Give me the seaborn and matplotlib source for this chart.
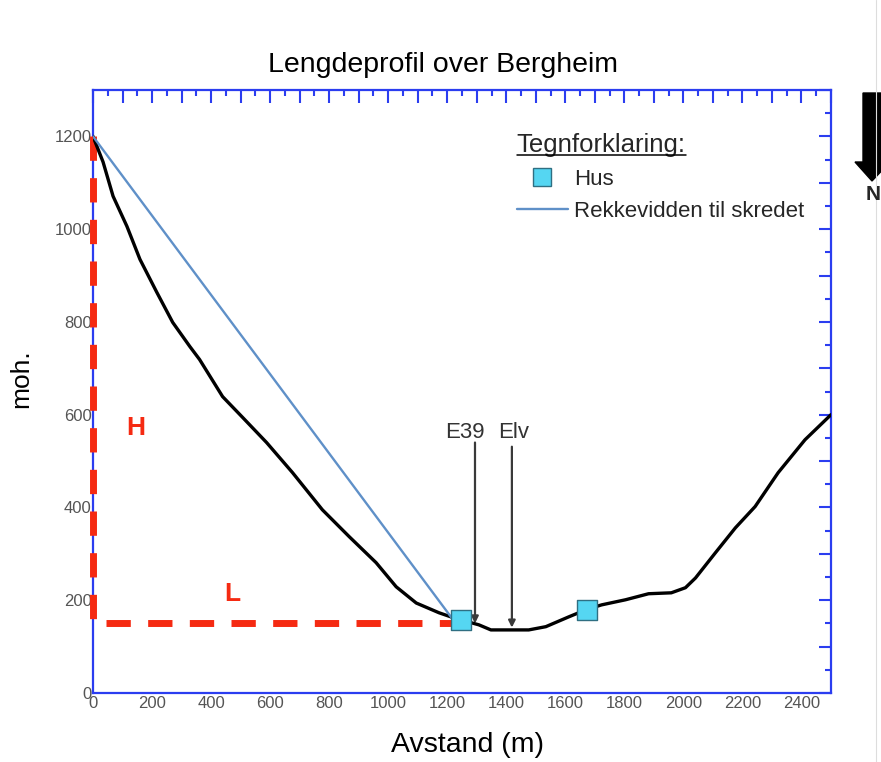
import matplotlib
matplotlib.use("Agg")
import matplotlib.pyplot as plt
import seaborn as sns
from matplotlib.ticker import MultipleLocator, FuncFormatter
from matplotlib.lines import Line2D
from matplotlib.patches import Polygon
from matplotlib.transforms import IdentityTransform

# Longitudinal terrain profile (distance in m, elevation in m a.s.l.)
distance = [0, 34, 68, 115, 159, 216, 270, 328, 361, 439, 507, 588, 676, 777,
            868, 959, 1027, 1095, 1172, 1213, 1247, 1284, 1307, 1348, 1476,
            1534, 1611, 1672, 1723, 1804, 1882, 1959, 2007, 2041, 2108, 2176,
            2243, 2321, 2412, 2500]
elevation = [1200, 1145, 1071, 1006, 935, 864, 799, 747, 719, 639, 594, 540,
             475, 395, 337, 281, 229, 194, 173, 164, 158, 151, 147, 136, 136,
             143, 164, 180, 190, 201, 214, 216, 227, 248, 302, 356, 402, 475,
             546, 600]

# Run-out line of the slide
runout_x = [0, 1215]
runout_y = [1200, 162]

# Houses
house_x = [1247, 1672]
house_y = [158, 180]

# Height (H) and length (L) of the run-out
hl_x = [0, 0, 1230]
hl_y = [1200, 150, 150]

# Pointers for the road and the river
pointer_names = ["E39", "Elv"]
pointer_x = [1294, 1419]
pointer_tip = [150, 141]
pointer_top = [540, 531]
pointer_label_x = [1260, 1426]

RED = "#f52a12"
BLUE_AX = "#2b3df0"
RUNOUT = "#5f90c8"
HOUSE = "#55d6f2"
HOUSE_EDGE = "#2f6f82"

sns.set_theme(style="white")
plt.rcParams["font.family"] = ["Liberation Sans", "DejaVu Sans"]

fig = plt.figure(figsize=(8.81, 7.62), dpi=100)
ax = fig.add_axes([93 / 881, 69 / 762, 738 / 881, 603 / 762])

# H / L frame
sns.lineplot(x=hl_x, y=hl_y, sort=False, estimator=None, color=RED, lw=5,
             linestyle=(0, (3.5, 2.5)), ax=ax, zorder=3)
ax.lines[-1].set_clip_on(False)

# Terrain profile
sns.lineplot(x=distance, y=elevation, sort=False, estimator=None,
             color="black", lw=2.4, ax=ax, zorder=4)

# Run-out line
sns.lineplot(x=runout_x, y=runout_y, sort=False, estimator=None,
             color=RUNOUT, lw=1.7, ax=ax, zorder=5)

# Houses
sns.scatterplot(x=house_x, y=house_y, marker="s", s=190, color=HOUSE,
                edgecolor=HOUSE_EDGE, linewidth=1, ax=ax, zorder=6)

# Road / river pointers
for name, px, tip, top, lx in zip(pointer_names, pointer_x, pointer_tip,
                                  pointer_top, pointer_label_x):
    ax.annotate("", xy=(px, tip), xytext=(px, top),
                arrowprops=dict(arrowstyle="-|>", color="#3a3a3a", lw=1.6,
                                mutation_scale=10, shrinkA=0, shrinkB=0))
    ax.text(lx, 562, name, ha="center", va="center", fontsize=16,
            color="#333333")

ax.text(145, 572, "H", color=RED, fontsize=19, fontweight="bold",
        ha="center", va="center")
ax.text(473, 214, "L", color=RED, fontsize=19, fontweight="bold",
        ha="center", va="center")

ax.set_xlim(0, 2500)
ax.set_ylim(0, 1300)

ax.xaxis.set_major_locator(MultipleLocator(100))
ax.xaxis.set_minor_locator(MultipleLocator(50))
ax.yaxis.set_major_locator(MultipleLocator(100))
ax.yaxis.set_minor_locator(MultipleLocator(50))
every_200 = FuncFormatter(lambda v, p: f"{int(round(v))}" if round(v) % 200 == 0 else "")
ax.xaxis.set_major_formatter(every_200)
ax.yaxis.set_major_formatter(every_200)

ax.tick_params(which="both", direction="in", top=True, right=True,
               color=BLUE_AX, width=1.5, labelcolor="#555555", labelsize=12)
ax.tick_params(which="major", length=9)
ax.tick_params(which="minor", length=4.5)
ax.tick_params(axis="y", pad=1)
ax.tick_params(axis="x", pad=2)

for sp in ax.spines.values():
    sp.set_color(BLUE_AX)
    sp.set_linewidth(1.6)
    sp.set_visible(True)

ax.set_title("Lengdeprofil over Bergheim", fontsize=20.5, x=0.474, pad=13,
             color="black")
ax.set_xlabel("Avstand (m)", fontsize=20.5, color="black")
ax.set_ylabel("moh.", fontsize=19, color="black")
ax.xaxis.set_label_coords(0.508, -0.064)
ax.yaxis.set_label_coords(-0.081, 0.522)

# Legend
handles = [
    Line2D([], [], marker="s", ls="none", markersize=13.5,
           markerfacecolor=HOUSE, markeredgecolor=HOUSE_EDGE),
    Line2D([], [], color=RUNOUT, lw=1.7),
]
leg = ax.legend(handles, ["Hus", "Rekkevidden til skredet"],
                title="Tegnforklaring:", loc="upper left",
                bbox_to_anchor=(0.574, 0.928), frameon=False, fontsize=16,
                title_fontsize=18.5, handlelength=2.3, handletextpad=0.3,
                labelspacing=0.5, borderpad=0, borderaxespad=0,
                alignment="left")

# North arrow outside the plot area
arrow_px = [(863, 93), (881, 93), (881, 162), (890, 162), (872, 181),
            (855, 162), (863, 162)]
fig.add_artist(Line2D([876 / 881, 876 / 881], [0, 1], color="#dddddd",
                      lw=0.8, transform=fig.transFigure))
fig.add_artist(Polygon([(x / 881, 1 - y / 762) for x, y in arrow_px],
                       closed=True, facecolor="black", edgecolor="black",
                       transform=fig.transFigure))
fig.text(873.5 / 881, 1 - 195 / 762, "N", fontsize=15, fontweight="bold",
         ha="center", va="center")

# Underline the legend heading
fig.canvas.draw()
bb = leg.get_title().get_window_extent()
fig.add_artist(Line2D([bb.x0, bb.x1], [bb.y0 + 2, bb.y0 + 2], color="black",
                      lw=1.1, transform=IdentityTransform()))

fig.savefig("out.png", dpi=100)
